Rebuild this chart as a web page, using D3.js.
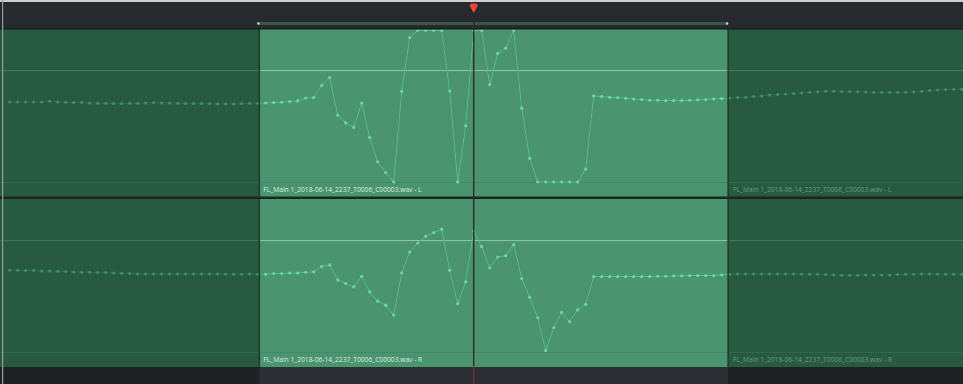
<!DOCTYPE html>
<html>
<head>
<meta charset="utf-8">
<script src="https://cdn.jsdelivr.net/npm/d3@7"></script>
<style>
  body { margin: 0; background: #222529; }
  svg { display: block; }
</style>
</head>
<body>
<div id="container"></div>
<script>
/* CONSTANTS AND GLOBALS */
const width = 963;
const height = 384;

// waveform samples, one every index, amplitude in % (clipped at +/-100)
const leftChannel = [
  5.7, 5.7, 5.7, 5.7, 5.7, 6.6, 5.7, 5.3, 4.8, 4.8, 4.4, 3.9, 3.9, 3.5, 3.5, 3.9,
  3.9, 4.4, 4.8, 4.4, 4.4, 3.9, 3.5, 3.5, 3.5, 3.5, 3.1, 3.1, 3.1, 3.5, 3.9, 4.0,
  4.3, 4.9, 5.3, 6.2, 7.0, 10.9, 11.4, 27.6, 37.8, -11.8, -22.0, -28.0, 4.3, -41.2,
  -73.3, -87.8, -100, 19.7, 90.4, 100, 100, 100, 100, 20.1, -100, -25.9, 100, 100,
  28.6, 69.7, 76.7, 100, -2.6, -68.8, -100, -100, -100, -100, -100, -100, -82.9, 13.6,
  12.8, 11.8, 11.4, 10.5, 9.6, 8.8, 7.9, 7.9, 7.5, 7.5, 7.5, 7.9, 8.3, 8.8, 9.6, 10.1,
  10.9, 11.4, 11.8, 12.8, 13.6, 14.9, 15.4, 16.2, 16.7, 17.5, 18.4, 19.3, 19.7, 19.7,
  19.3, 19.3, 19.3, 18.8, 18.4, 18.0, 18.0, 18.0, 18.4, 18.8, 19.7, 20.7, 21.4, 22.0,
  22.4, 22.4
];
const rightChannel = [
  7.9, 7.9, 7.5, 7.5, 7.0, 7.0, 6.6, 6.2, 5.7, 5.3, 5.3, 4.9, 4.9, 4.3, 3.9, 3.6,
  3.0, 3.0, 3.0, 3.0, 3.0, 3.0, 3.0, 3.0, 3.0, 3.0, 3.0, 3.0, 2.6, 2.6, 3.0, 2.8,
  2.6, 3.6, 3.6, 4.3, 4.3, 5.3, 5.7, 12.8, 14.9, -4.9, -9.6, -14.1, 0, -20.7,
  -32.9, -38.2, -51.3, 4.3, 32.0, 43.8, 53.0, 57.5, 62.2, 7.9, -36.4, -7.5, 59.6, 39.1,
  10.9, 25.4, 27.2, 41.7, -3.0, -27.6, -54.9, -98.3, -68.0, -47.8, -60.1, -44.3, -37.2, -0.4,
  -0.4, -0.4, -0.4, -0.4, -0.4, -0.4, -0.4, 0, 0, 0.4, 0.4, 0.9, 0.9, 0.9, 0.9, 1.8,
  2.6, 3.0, 3.0, 3.0, 3.0, 3.0, 3.0, 3.0, 3.0, 3.0, 2.6, 2.6, 2.2, 1.7, 1.3, 1.3,
  1.3, 1.7, 1.7, 1.7, 1.7, 2.2, 2.6, 2.6, 3.0, 3.0, 3.0, 2.6, 2.6, 2.6
];
const channelNames = ["L", "R"];
const clipName = "FL_Main 1_2018-06-14_2237_T0006_C00003.wav";
const selection = [31.2, 89.8];   // in sample index
const playhead = 58;
const guideLevel = 47;

const channels = [leftChannel, rightChannel];

/* LAYOUT */
const trackTop = [29, 199];
const trackH = 168;

const svg = d3.select("#container")
  .append("svg")
  .attr("width", width)
  .attr("height", height)

const xScale = d3.scaleLinear()
  .domain([0, leftChannel.length - 1])
  .range([9.7, 961.7])

const selX0 = xScale(selection[0]);
const selX1 = xScale(selection[1]);

// top ruler bar
svg.append("rect").attr("width", width).attr("height", height).attr("fill", "#1f2225")
svg.append("rect").attr("x", 0).attr("y", 0).attr("width", width).attr("height", 2).attr("fill", "#cfcfcf")
svg.append("rect").attr("x", 0).attr("y", 2).attr("width", width).attr("height", 26).attr("fill", "#26292d")

// bottom bar, selection part lighter
svg.append("rect").attr("x", selX0).attr("y", 366).attr("width", selX1 - selX0).attr("height", 18).attr("fill", "#2b2f33")

// selection range on the ruler
svg.append("rect")
  .attr("x", selX0 - 2).attr("y", 22).attr("width", selX1 - selX0 + 2).attr("height", 3)
  .attr("fill", "#3c5646")
svg.selectAll(".rangeEnd")
  .data(selection)
  .join("circle")
  .attr("cx", d => xScale(d) - 1).attr("cy", 23.5).attr("r", 1.2)
  .attr("fill", "#c8d2cc")

svg.append("defs").append("clipPath").attr("id", "selClip")
  .append("rect").attr("x", selX0).attr("y", 0).attr("width", selX1 - selX0).attr("height", height)

channels.forEach((values, i) => {
  const top = trackTop[i];
  const g = svg.append("g")

  const yScale = d3.scaleLinear()
    .domain([-100, 100])
    .range([top + 153, top + 1.5])

  // backgrounds
  g.append("rect").attr("x", 0).attr("y", top).attr("width", width).attr("height", trackH).attr("fill", "#275a41")
  g.append("rect").attr("x", selX0).attr("y", top).attr("width", selX1 - selX0).attr("height", trackH).attr("fill", "#4a9470")

  // guide line + bottom edge of the wave area
  g.append("line")
    .attr("x1", 0).attr("x2", width)
    .attr("y1", yScale(guideLevel)).attr("y2", yScale(guideLevel))
    .attr("stroke", "#447a5c").attr("stroke-width", 1)
  g.append("line")
    .attr("x1", selX0).attr("x2", selX1)
    .attr("y1", yScale(guideLevel)).attr("y2", yScale(guideLevel))
    .attr("stroke", "#93cdae").attr("stroke-width", 1)
  g.append("line")
    .attr("x1", 0).attr("x2", width)
    .attr("y1", yScale(-100) + 0.5).attr("y2", yScale(-100) + 0.5)
    .attr("stroke", "#3a7d5a").attr("stroke-opacity", 0.45)

  const line = d3.line()
    .x((d, j) => xScale(j))
    .y(d => yScale(d))

  // outside the selection: dim
  g.append("path")
    .datum(values)
    .attr("d", line)
    .attr("fill", "none")
    .attr("stroke", "#35774f")
    .attr("stroke-width", 0.7)
  g.selectAll(".dotOut")
    .data(values)
    .join("circle")
    .attr("class", "dotOut")
    .attr("cx", (d, j) => xScale(j))
    .attr("cy", d => yScale(d))
    .attr("r", 1.5)
    .attr("fill", "#409166")

  // inside the selection: bright
  const sel = g.append("g").attr("clip-path", "url(#selClip)")
  sel.append("path")
    .datum(values)
    .attr("d", line)
    .attr("fill", "none")
    .attr("stroke", "#66d49d")
    .attr("stroke-opacity", 0.85)
    .attr("stroke-width", 0.9)
  sel.selectAll(".dotIn")
    .data(values)
    .join("circle")
    .attr("class", "dotIn")
    .attr("cx", (d, j) => xScale(j))
    .attr("cy", d => yScale(d))
    .attr("r", 1.6)
    .attr("fill", "#68d9a0")

  // clip names
  g.append("text")
    .attr("x", selX0 + 4).attr("y", top + 163)
    .attr("font-family", "Open Sans, sans-serif").attr("font-size", 6.7)
    .attr("fill", "#dcefe3")
    .text(`${clipName} - ${channelNames[i]}`)
  g.append("text")
    .attr("x", selX1 + 5).attr("y", top + 163)
    .attr("font-family", "Open Sans, sans-serif").attr("font-size", 6.7)
    .attr("fill", "#6a9a80")
    .text(`${clipName} - ${channelNames[i]}`)

  // selection edges
  g.selectAll(".edge")
    .data(selection)
    .join("line")
    .attr("x1", d => xScale(d)).attr("x2", d => xScale(d))
    .attr("y1", top).attr("y2", top + trackH)
    .attr("stroke", "#1d3b2c").attr("stroke-width", 1.5)
})

// separators between tracks
svg.append("rect").attr("x", 0).attr("y", 28).attr("width", width).attr("height", 1.5).attr("fill", "#1b1e21")
svg.append("rect").attr("x", 0).attr("y", 196.5).attr("width", width).attr("height", 2.5).attr("fill", "#1b2620")

// window edge
svg.append("rect").attr("x", 2).attr("y", 0).attr("width", 1.2).attr("height", height).attr("fill", "#9a9c9b")

// playhead
const px = xScale(playhead);
svg.append("line")
  .attr("x1", px).attr("x2", px).attr("y1", 12).attr("y2", 366)
  .attr("stroke", "#2a2b2a").attr("stroke-width", 1.4)
svg.append("line")
  .attr("x1", px).attr("x2", px).attr("y1", 366).attr("y2", height)
  .attr("stroke", "#8a3532").attr("stroke-width", 1)
svg.append("path")
  .attr("d", `M${px - 4},6 Q${px - 4},3.5 ${px - 1.5},3.5 L${px + 1.5},3.5 Q${px + 4},3.5 ${px + 4},6 L${px},13 Z`)
  .attr("fill", "#e8473d")
</script>
</body>
</html>
